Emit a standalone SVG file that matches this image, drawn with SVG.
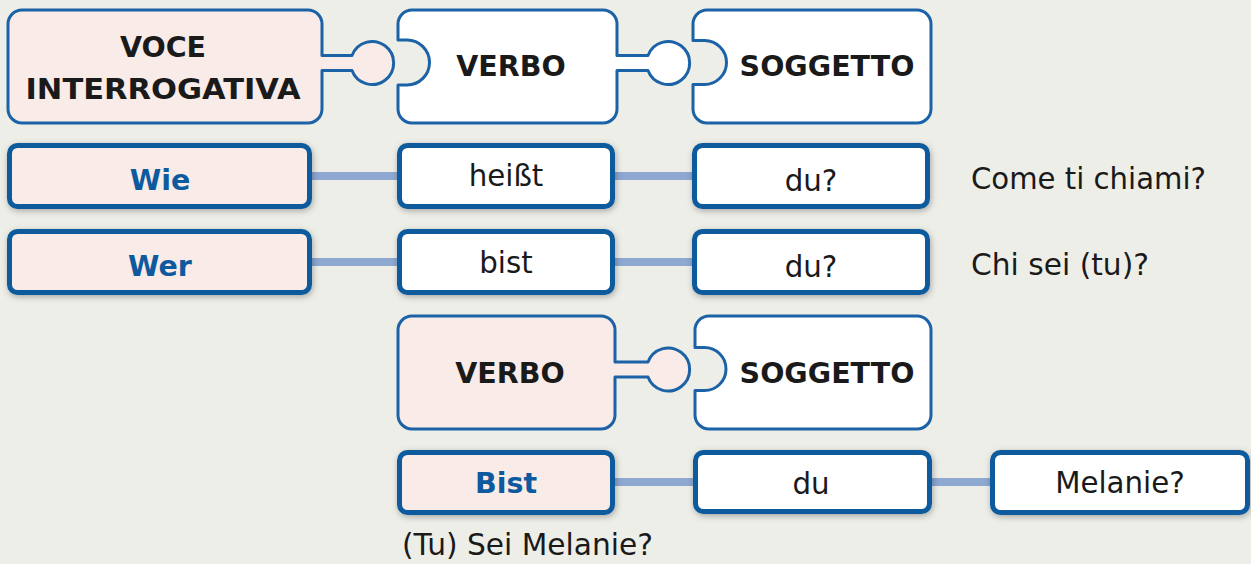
<svg xmlns="http://www.w3.org/2000/svg" width="1251" height="564" viewBox="0 0 1251 564">
<defs>
<filter id="sh" x="-10%" y="-30%" width="120%" height="160%">
<feDropShadow dx="1" dy="2" stdDeviation="3" flood-color="#000" flood-opacity="0.3"/>
</filter>
<style>
.bg{fill:#eeeee9}
.pz{stroke:#1b62a6;stroke-width:3;stroke-linejoin:round}
.pink{fill:#f9ebe7}
.white{fill:#ffffff}
.tb{stroke:#0a5a9c;stroke-width:5;filter:url(#sh)}
.con{stroke:#8ea8d2;stroke-width:8;fill:none}
.t{font-family:"DejaVu Sans",Verdana,sans-serif;font-size:29.3px;fill:#1a1a1a}
.b{font-weight:bold;font-size:28.5px}
.blue{fill:#0d5a9e}
.m{text-anchor:middle}
</style>
</defs>
<rect class="bg" x="0" y="0" width="1251" height="564"/>

<g id="connectors">
<line class="con" x1="312" y1="176" x2="397" y2="176"/>
<line class="con" x1="615" y1="176" x2="692" y2="176"/>
<line class="con" x1="312" y1="262" x2="397" y2="262"/>
<line class="con" x1="615" y1="262" x2="692" y2="262"/>
<line class="con" x1="615" y1="482" x2="693" y2="482"/>
<line class="con" x1="932" y1="482" x2="990" y2="482"/>
</g>

<g id="voce-interrogativa">
<path class="pz pink" d="M22,10 H308 A14,14 0 0 1 322,24 V55.5 H352 A21.5,21.5 0 1 1 352,70.5 H322 V109 A14,14 0 0 1 308,123 H22 A14,14 0 0 1 8,109 V24 A14,14 0 0 1 22,10 Z"/>
<text class="t b m" x="163" y="57">VOCE</text>
<text class="t b m" x="163" y="99" textLength="275" lengthAdjust="spacingAndGlyphs">INTERROGATIVA</text>
</g>

<g id="verbo-top">
<path class="pz white" d="M412,10 H603 A14,14 0 0 1 617,24 V55.5 H648 A21.5,21.5 0 1 1 648,70.5 H617 V109 A14,14 0 0 1 603,123 H412 A14,14 0 0 1 398,109 V85 H407 A22.5,22.5 0 0 0 407,40 H398 V24 A14,14 0 0 1 412,10 Z"/>
<text class="t b m" x="511" y="76">VERBO</text>
</g>

<g id="soggetto-top">
<path class="pz white" d="M707,10 H917 A14,14 0 0 1 931,24 V109 A14,14 0 0 1 917,123 H707 A14,14 0 0 1 693,109 V84.5 H704.5 A22,22 0 0 0 704.5,40.5 H693 V24 A14,14 0 0 1 707,10 Z"/>
<text class="t b m" x="827" y="76">SOGGETTO</text>
</g>

<g id="wie">
<rect class="tb pink" x="9.5" y="145.5" width="300" height="61" rx="8"/>
<text class="t b m blue" x="160" y="190">Wie</text>
</g>
<g id="heisst">
<rect class="tb white" x="399.5" y="145.5" width="213" height="61" rx="8"/>
<text class="t m" x="506" y="186">heißt</text>
</g>
<g id="du1">
<rect class="tb white" x="694.5" y="145.5" width="233" height="61" rx="8"/>
<text class="t m" x="811" y="191">du?</text>
</g>
<text id="come" class="t" x="971" y="189" textLength="235" lengthAdjust="spacingAndGlyphs">Come ti chiami?</text>

<g id="wer">
<rect class="tb pink" x="9.5" y="231.5" width="300" height="61" rx="8"/>
<text class="t b m blue" x="160" y="276">Wer</text>
</g>
<g id="bist">
<rect class="tb white" x="399.5" y="231.5" width="213" height="61" rx="8"/>
<text class="t m" x="506" y="273">bist</text>
</g>
<g id="du2">
<rect class="tb white" x="694.5" y="231.5" width="233" height="61" rx="8"/>
<text class="t m" x="811" y="277">du?</text>
</g>
<text id="chi" class="t" x="971" y="275" textLength="178" lengthAdjust="spacingAndGlyphs">Chi sei (tu)?</text>

<g id="verbo-bottom">
<path class="pz pink" d="M412,316 H601 A14,14 0 0 1 615,330 V362 H648 A21.5,21.5 0 1 1 648,377 H615 V415 A14,14 0 0 1 601,429 H412 A14,14 0 0 1 398,415 V330 A14,14 0 0 1 412,316 Z"/>
<text class="t b m" x="510" y="383">VERBO</text>
</g>

<g id="soggetto-bottom">
<path class="pz white" d="M709,316 H917 A14,14 0 0 1 931,330 V415 A14,14 0 0 1 917,429 H709 A14,14 0 0 1 695,415 V390.5 H704.5 A21.5,21.5 0 0 0 704.5,347.5 H695 V330 A14,14 0 0 1 709,316 Z"/>
<text class="t b m" x="827" y="383">SOGGETTO</text>
</g>

<g id="bist-cap">
<rect class="tb pink" x="399.5" y="452.5" width="213" height="60" rx="8"/>
<text class="t b m blue" x="506" y="493">Bist</text>
</g>
<g id="du3">
<rect class="tb white" x="695.5" y="452.5" width="234" height="59" rx="8"/>
<text class="t m" x="811" y="494">du</text>
</g>
<g id="melanie">
<rect class="tb white" x="992.5" y="452.5" width="255" height="60" rx="8"/>
<text class="t m" x="1120" y="493">Melanie?</text>
</g>
<text id="sei" class="t" x="402" y="555" textLength="251" lengthAdjust="spacingAndGlyphs">(Tu) Sei Melanie?</text>
</svg>
